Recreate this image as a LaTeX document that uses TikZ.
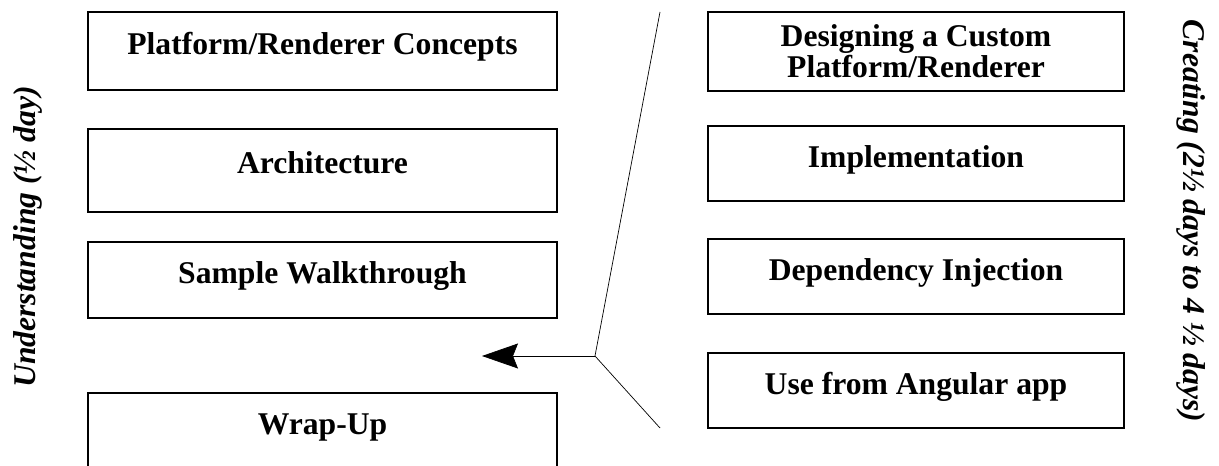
\documentclass[tikz,border=0pt]{standalone}
\usepackage{fontspec}
\setmainfont{Liberation Serif}
\usetikzlibrary{arrows.meta}

\begin{document}
\begin{tikzpicture}[>={Stealth[length=7.2mm, width=5mm, inset=1mm]},
  topic/.style={draw, line width=0.9pt, align=center, inner sep=2pt,
    text height=0.7em, text depth=0.35em,
    font=\fontsize{18}{16}\selectfont\bfseries},
  lefttopic/.style={topic, minimum width=9.38cm},
  righttopic/.style={topic, minimum width=8.32cm, minimum height=1.5cm, text depth=0.25em},
  phase/.style={font=\fontsize{18}{21}\selectfont\bfseries\itshape}]
  \useasboundingbox (0,0) rectangle (24.38,9.32);

  % Understanding column
  \node[lefttopic, minimum height=1.56cm] (concepts) at (6.45,8.30) {Platform/Renderer Concepts};
  \node[lefttopic, minimum height=1.66cm] (arch) at (6.45,5.91) {Architecture};
  \node[lefttopic, minimum height=1.52cm] (walk) at (6.45,3.72) {Sample Walkthrough};
  \node[lefttopic, minimum height=1.52cm] (wrap) at (6.45,0.70) {Wrap-Up};
  \node[phase, rotate=90] (understand) at (0.56,4.58) {Understanding (½ day)};

  % Creating column
  \node[righttopic, minimum height=1.58cm, text height=, text depth=] (design) at (18.32,8.29) {Designing a Custom\\Platform/Renderer};
  \node[righttopic] (impl) at (18.32,6.05) {Implementation};
  \node[righttopic] (inject) at (18.32,3.79) {Dependency Injection};
  \node[righttopic] (angular) at (18.32,1.51) {Use from Angular app};
  \node[phase, rotate=-90] (create) at (23.82,4.90) {Creating (2½ days to 4 ½ days)};

  % Divider and arrow
  \coordinate (top) at (13.2,9.08);
  \coordinate (hub) at (11.9,2.20);
  \coordinate (foot) at (13.2,0.76);
  \coordinate (tip) at (9.64,2.20);
  \draw[line width=0.4pt] (top) -- (hub) -- (foot);
  \draw[->, line width=0.4pt] (hub) -- (tip);

\end{tikzpicture}
\end{document}
